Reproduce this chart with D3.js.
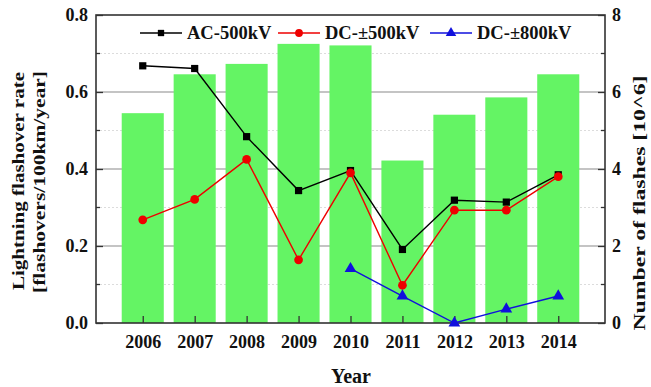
<!DOCTYPE html>
<html>
<head>
<meta charset="utf-8">
<script src="https://cdn.jsdelivr.net/npm/d3@7"></script>
<style>
  html, body { margin: 0; padding: 0; background: #fff; }
  svg { display: block; }
  text { font-family: "Liberation Serif", "Times New Roman", serif; font-weight: bold; fill: #111; }
</style>
</head>
<body>
<svg id="chart" width="651" height="387"></svg>
<script>
// Yearly data
const years = [2006, 2007, 2008, 2009, 2010, 2011, 2012, 2013, 2014];
const flashes = [5.45, 6.46, 6.73, 7.25, 7.21, 4.22, 5.41, 5.86, 6.46];          // 10^6 flashes (bars, right axis)
const ac500 = [0.668, 0.661, 0.484, 0.344, 0.396, 0.191, 0.319, 0.314, 0.385];  // AC-500kV
const dc500 = [0.268, 0.321, 0.425, 0.164, 0.390, 0.098, 0.293, 0.293, 0.380];  // DC-±500kV
const dc800Years = [2010, 2011, 2012, 2013, 2014];
const dc800 = [0.141, 0.070, 0.000, 0.036, 0.070];                              // DC-±800kV
const leftTicks = [0.0, 0.2, 0.4, 0.6, 0.8];
const rightTicks = [0, 2, 4, 6, 8];

const svg = d3.select("#chart");
const m = { left: 96, right: 605, top: 15, bottom: 323 };

const x = d3.scaleLinear().domain([2005.1, 2014.9]).range([m.left, m.right]);
const yL = d3.scaleLinear().domain([0, 0.8]).range([m.bottom, m.top]);
const yR = d3.scaleLinear().domain([0, 8]).range([m.bottom, m.top]);
const step = x(2007) - x(2006);
const barW = step * 0.81;

// Gridlines: minor (dotted, light) and major (solid, grey)
const g = svg.append("g");
g.selectAll("line.minor").data([0.1, 0.3, 0.5, 0.7]).join("line")
  .attr("x1", m.left).attr("x2", m.right)
  .attr("y1", d => yL(d)).attr("y2", d => yL(d))
  .attr("stroke", "#dcdcdc").attr("stroke-width", 1).attr("stroke-dasharray", "2,2");
g.selectAll("line.major").data([0.2, 0.4, 0.6]).join("line")
  .attr("x1", m.left).attr("x2", m.right)
  .attr("y1", d => yL(d)).attr("y2", d => yL(d))
  .attr("stroke", "#b0b0b0").attr("stroke-width", 1.5);

// Bars
svg.append("g").selectAll("rect").data(years).join("rect")
  .attr("x", (d) => x(d) - barW / 2)
  .attr("width", barW)
  .attr("y", (d, i) => yR(flashes[i]))
  .attr("height", (d, i) => yR(0) - yR(flashes[i]))
  .attr("fill", "#64f464");

// Frame
svg.append("rect").attr("x", m.left).attr("y", m.top)
  .attr("width", m.right - m.left).attr("height", m.bottom - m.top)
  .attr("fill", "none").attr("stroke", "#333").attr("stroke-width", 1.6);

// Axes with inward ticks
const leftAxis = d3.axisLeft(yL).tickValues(leftTicks).tickFormat(d3.format(".1f")).tickSizeInner(-7).tickSizeOuter(0).tickPadding(8);
const gl = svg.append("g").attr("transform", `translate(${m.left},0)`).call(leftAxis);
const rightAxis = d3.axisRight(yR).tickValues(rightTicks).tickFormat(d3.format("d")).tickSizeInner(-7).tickSizeOuter(0).tickPadding(7);
const gr = svg.append("g").attr("transform", `translate(${m.right},0)`).call(rightAxis);
const bottomAxis = d3.axisBottom(x).tickValues(years).tickFormat(d3.format("d")).tickSizeInner(-7).tickSizeOuter(0).tickPadding(12);
const gb = svg.append("g").attr("transform", `translate(0,${m.bottom})`).call(bottomAxis);
[gl, gr, gb].forEach(a => {
  a.select(".domain").remove();
  a.selectAll(".tick line").attr("stroke", "#333").attr("stroke-width", 1.3);
  a.selectAll(".tick text").style("font-size", "18px").attr("fill", "#111");
});
// minor ticks
svg.append("g").selectAll("line").data([0.1, 0.3, 0.5, 0.7]).join("line")
  .attr("x1", m.left).attr("x2", m.left + 4).attr("y1", d => yL(d)).attr("y2", d => yL(d))
  .attr("stroke", "#333").attr("stroke-width", 1.3);
svg.append("g").selectAll("line").data([1, 3, 5, 7]).join("line")
  .attr("x1", m.right).attr("x2", m.right - 4).attr("y1", d => yR(d)).attr("y2", d => yR(d))
  .attr("stroke", "#333").attr("stroke-width", 1.3);

// Lines and markers
const line = d3.line();
function series(xs, ys, color, shape) {
  const pts = xs.map((d, i) => [x(d), yL(ys[i])]);
  svg.append("path").attr("d", line(pts)).attr("fill", "none")
    .attr("stroke", color).attr("stroke-width", 1.4);
  svg.append("g").selectAll("path").data(pts).join("path")
    .attr("transform", d => `translate(${d[0]},${d[1]})`)
    .attr("d", d3.symbol().type(shape).size(shape === d3.symbolSquare ? 52 : 60)())
    .attr("fill", color);
}
series(years, ac500, "#000", d3.symbolSquare);
series(years, dc500, "#ee0000", d3.symbolCircle);
series(dc800Years, dc800, "#1010dd", d3.symbolTriangle);

// Legend
const legend = [
  { label: "AC-500kV", color: "#000", shape: d3.symbolSquare, x0: 140 },
  { label: "DC-\u00b1500kV", color: "#ee0000", shape: d3.symbolCircle, x0: 278 },
  { label: "DC-\u00b1800kV", color: "#1010dd", shape: d3.symbolTriangle, x0: 430 }
];
const lg = svg.append("g");
legend.forEach(d => {
  const yy = 33;
  lg.append("line").attr("x1", d.x0).attr("x2", d.x0 + 42).attr("y1", yy).attr("y2", yy)
    .attr("stroke", d.color).attr("stroke-width", 1.4);
  lg.append("path").attr("transform", `translate(${d.x0 + 21},${yy})`)
    .attr("d", d3.symbol().type(d.shape).size(d.shape === d3.symbolSquare ? 40 : 48)())
    .attr("fill", d.color);
  lg.append("text").attr("x", d.x0 + 47).attr("y", yy + 6)
    .style("font-size", "18.5px").text(d.label);
});

// Axis titles (stretched along their run to span the axis)
svg.append("text").attr("transform", "translate(24,181) rotate(-90)")
  .attr("text-anchor", "middle").style("font-size", "17px")
  .attr("textLength", 218).attr("lengthAdjust", "spacingAndGlyphs").text("Lightning flashover rate");
svg.append("text").attr("transform", "translate(45,182) rotate(-90)")
  .attr("text-anchor", "middle").style("font-size", "17px")
  .attr("textLength", 222).attr("lengthAdjust", "spacingAndGlyphs").text("[flashovers/100km/year]");
svg.append("text").attr("transform", "translate(645,203) rotate(-90)")
  .attr("text-anchor", "middle").style("font-size", "16px")
  .attr("textLength", 255).attr("lengthAdjust", "spacingAndGlyphs").text("Number of flashes [10^6]");
svg.append("text").attr("x", 351).attr("y", 383)
  .attr("text-anchor", "middle").style("font-size", "20px").text("Year");
</script>
</body>
</html>
